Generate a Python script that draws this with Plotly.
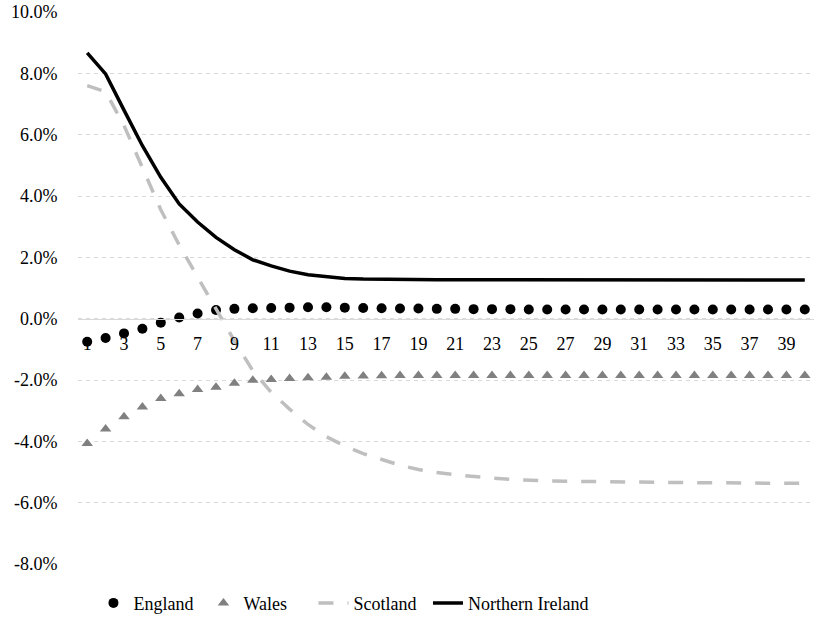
import plotly.graph_objects as go

periods = list(range(1, 41))

england = [-0.75, -0.63, -0.48, -0.33, -0.13, 0.04, 0.17, 0.28, 0.32, 0.34,
           0.35, 0.36, 0.37, 0.37, 0.36, 0.35, 0.34, 0.33, 0.33, 0.32,
           0.32, 0.31, 0.31, 0.31, 0.30, 0.30, 0.30, 0.30, 0.30, 0.30,
           0.30, 0.30, 0.30, 0.30, 0.30, 0.30, 0.30, 0.30, 0.30, 0.30]

wales = [-4.07, -3.6, -3.2, -2.88, -2.6, -2.45, -2.31, -2.24, -2.11, -2.01,
         -1.98, -1.95, -1.93, -1.91, -1.88, -1.87, -1.86, -1.85, -1.85, -1.85,
         -1.85, -1.85, -1.85, -1.85, -1.85, -1.85, -1.85, -1.85, -1.85, -1.85,
         -1.85, -1.85, -1.85, -1.85, -1.85, -1.85, -1.85, -1.85, -1.85, -1.85]

scotland = [7.6, 7.4, 6.3, 4.95, 3.55, 2.4, 1.35, 0.3, -0.72, -1.7,
            -2.4, -2.95, -3.45, -3.85, -4.15, -4.4, -4.6, -4.78, -4.92, -5.02,
            -5.09, -5.15, -5.2, -5.24, -5.27, -5.29, -5.3, -5.31, -5.32, -5.33,
            -5.33, -5.34, -5.34, -5.35, -5.35, -5.36, -5.36, -5.36, -5.37, -5.37]

northern_ireland = [8.67, 7.98, 6.8, 5.64, 4.61, 3.74, 3.15, 2.65, 2.25, 1.92,
                    1.72, 1.55, 1.43, 1.36, 1.31, 1.29, 1.28, 1.27, 1.27, 1.27,
                    1.27, 1.27, 1.26, 1.26, 1.26, 1.26, 1.26, 1.26, 1.26, 1.26,
                    1.26, 1.26, 1.26, 1.26, 1.26, 1.26, 1.26, 1.26, 1.26, 1.26]

y_tick_vals = [-8, -6, -4, -2, 0, 2, 4, 6, 8, 10]
y_tick_text = ["-8.0%", "-6.0%", "-4.0%", "-2.0%", "0.0%", "2.0%", "4.0%", "6.0%", "8.0%", "10.0%"]
x_tick_vals = list(range(1, 41, 2))
x_tick_text = [str(v) for v in x_tick_vals]

FONT = "Liberation Serif"
Y_MIN, Y_MAX = -8, 10

fig = go.Figure()
fig.add_trace(go.Scatter(x=periods, y=england, name="England", mode="markers",
                         marker=dict(symbol="circle", size=10, color="black")))
fig.add_trace(go.Scatter(x=periods, y=wales, name="Wales", mode="markers",
                         marker=dict(symbol="triangle-up", size=10, color="#808080")))
fig.add_trace(go.Scatter(x=periods, y=scotland, name="Scotland", mode="lines",
                         line=dict(color="#bfbfbf", width=3.5, dash="15px,14px")))
fig.add_trace(go.Scatter(x=periods, y=northern_ireland, name="Northern Ireland", mode="lines",
                         line=dict(color="black", width=3.5), legend="legend2"))

legend_font = dict(family=FONT, size=18, color="black")
fig.update_layout(
    width=814, height=619,
    margin=dict(l=78, r=0, t=12, b=55, autoexpand=False),
    plot_bgcolor="white", paper_bgcolor="white",
    font=dict(family=FONT, size=18, color="black"),
    showlegend=True,
    legend=dict(orientation="h", x=0.021, xanchor="left", y=-0.071, yanchor="middle",
                entrywidth=65, entrywidthmode="pixels",
                font=legend_font, bgcolor="rgba(0,0,0,0)"),
    legend2=dict(orientation="h", x=0.4755, xanchor="left", y=-0.071, yanchor="middle",
                 font=legend_font, bgcolor="rgba(0,0,0,0)"),
    xaxis=dict(range=[0.5, 40.5], tickmode="array", tickvals=x_tick_vals, ticktext=x_tick_text,
               showgrid=False, zeroline=False, showline=True, linecolor="#d9d9d9", linewidth=1,
               anchor="free", position=(0 - Y_MIN) / (Y_MAX - Y_MIN),
               ticks="outside", ticklen=9, tickcolor="rgba(0,0,0,0)",
               tickfont=dict(family=FONT, size=18, color="black")),
    yaxis=dict(range=[Y_MIN, Y_MAX], tickmode="array", tickvals=y_tick_vals, ticktext=y_tick_text,
               showgrid=True, gridcolor="#d9d9d9", gridwidth=1, griddash="4px,4px",
               zeroline=False, showline=False,
               ticks="outside", ticklen=16, tickcolor="rgba(0,0,0,0)",
               tickfont=dict(family=FONT, size=18, color="black")),
)

fig.write_html("out.html", config={"displayModeBar": False},
               post_script="document.body.style.margin='0';document.body.style.overflow='hidden';")
